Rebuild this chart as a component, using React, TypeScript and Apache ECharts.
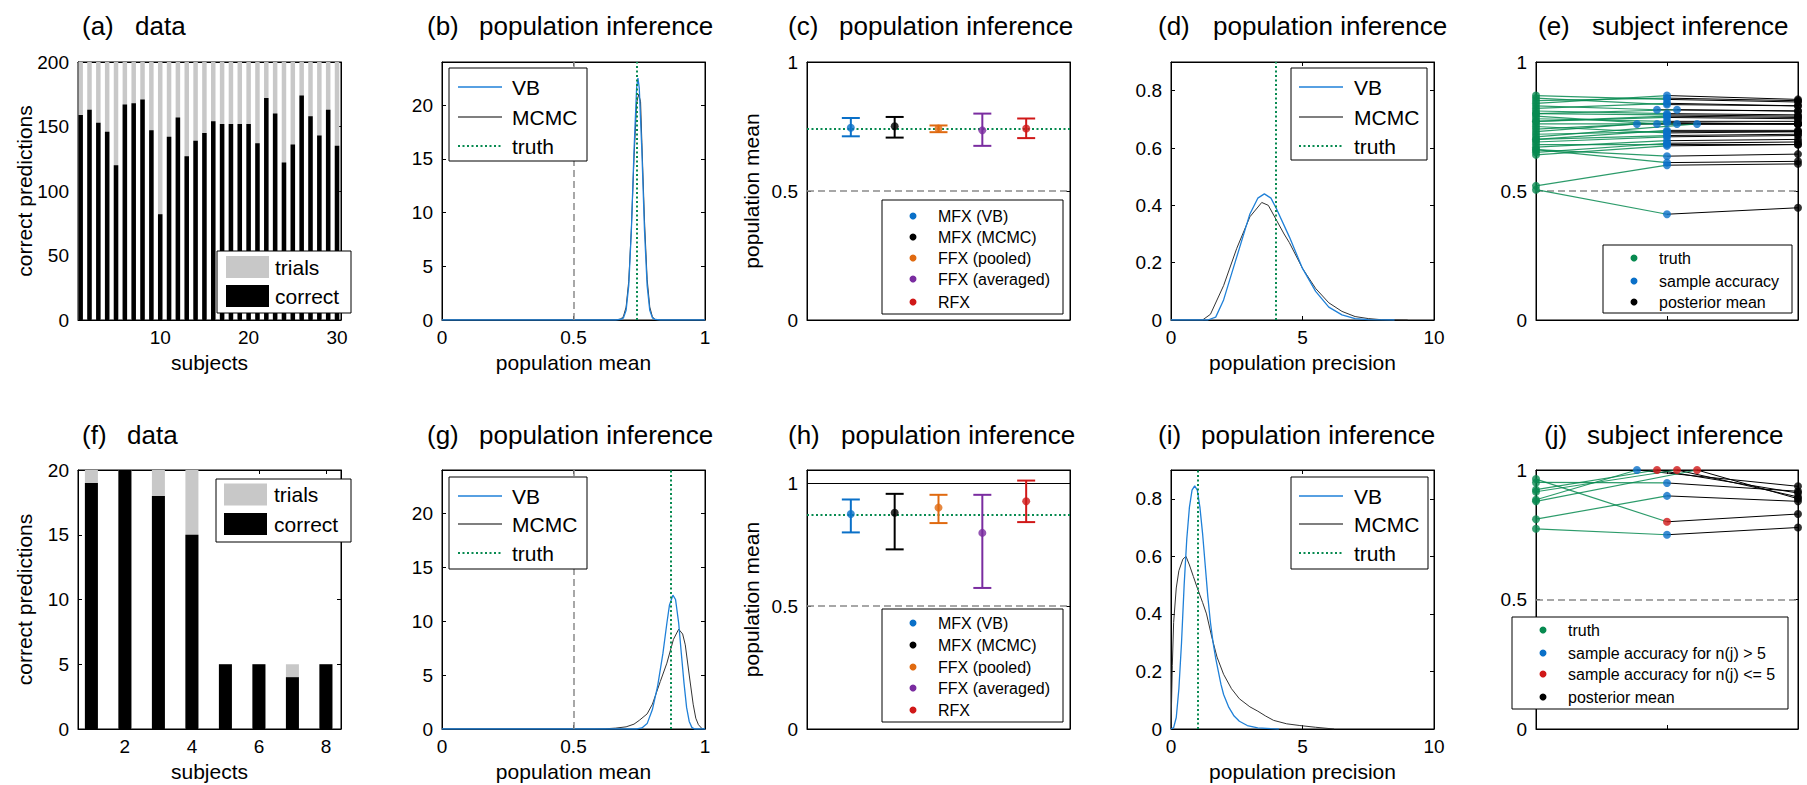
import React, { useEffect, useRef } from "react";
import * as echarts from "echarts";

const FONT = '"Liberation Sans", Arial, Helvetica, sans-serif';
const GREEN = "#078a50";
const BLUE = "#0a70c8";
const VBLINE = "#1f80d8";
const MCMCLINE = "#333333";
const ORANGE = "#e06a10";
const PURPLE = "#7a2ca0";
const RED = "#d01818";
const GRAY = "#8a8a8a";
const BARGRAY = "#c8c8c8";

// ---------- data: top row (30 subjects, 200 trials) ----------
const trialsA = [200, 200, 200, 200, 200, 200, 200, 200, 200, 200, 200, 200, 200, 200, 200, 200, 200, 200, 200, 200, 200, 200, 200, 200, 200, 200, 200, 200, 200, 200];
const correctA = [159, 163, 153, 146, 120, 167, 168, 171, 147, 82, 142, 157, 127, 139, 145, 154, 152, 152, 152, 152, 137, 172, 160, 122, 136, 174, 158, 143, 163, 135];
const truthA = [0.8, 0.83, 0.74, 0.72, 0.52, 0.86, 0.82, 0.87, 0.7, 0.505, 0.69, 0.77, 0.66, 0.67, 0.75, 0.78, 0.73, 0.79, 0.76, 0.71, 0.65, 0.85, 0.81, 0.66, 0.68, 0.84, 0.77, 0.7, 0.8, 0.64];
const postMeanA = [0.79, 0.81, 0.76, 0.73, 0.605, 0.83, 0.83, 0.845, 0.735, 0.435, 0.715, 0.78, 0.643, 0.7, 0.73, 0.77, 0.76, 0.76, 0.76, 0.76, 0.69, 0.85, 0.795, 0.615, 0.68, 0.855, 0.785, 0.72, 0.81, 0.68];

// ---------- data: bottom row (8 subjects) ----------
const trialsF = [20, 20, 20, 20, 5, 5, 5, 5];
const correctF = [19, 20, 18, 15, 5, 5, 4, 5];
const truthF = [0.952, 0.885, 0.81, 0.773, 0.924, 0.916, 0.965, 0.879];
const postMeanF = [0.918, 0.937, 0.879, 0.778, 0.911, 0.896, 0.83, 0.889];

// ---------- population mean estimates ----------
const methods = ["MFX (VB)", "MFX (MCMC)", "FFX (pooled)", "FFX (averaged)", "RFX"];
const methodColors = [BLUE, "#000000", ORANGE, PURPLE, RED];
const meanC = [0.745, 0.751, 0.742, 0.735, 0.742];
const lowC = [0.712, 0.707, 0.728, 0.675, 0.705];
const highC = [0.783, 0.787, 0.754, 0.8, 0.781];
const meanH = [0.875, 0.88, 0.901, 0.798, 0.927];
const lowH = [0.8, 0.731, 0.838, 0.574, 0.842];
const highH = [0.934, 0.957, 0.953, 0.953, 1.011];
const truthMeanTop = 0.74;
const truthMeanBottom = 0.866;
const truthPrecTop = 4.0;
const truthPrecBottom = 1.0;

// ---------- posterior densities ----------
const vbMeanTop = [[0, 0], [0.66, 0], [0.68, 0.05], [0.69, 0.2], [0.7, 0.9], [0.71, 3.2], [0.72, 8.3], [0.73, 15.7], [0.74, 21.6], [0.745, 22.5], [0.75, 21.6], [0.76, 15.7], [0.77, 8.3], [0.78, 3.2], [0.79, 0.9], [0.8, 0.2], [0.81, 0.05], [0.83, 0], [1, 0]];
const mcmcMeanTop = [[0, 0], [0.66, 0], [0.68, 0.1], [0.69, 0.35], [0.7, 1.2], [0.71, 3.6], [0.72, 8.5], [0.73, 15.0], [0.74, 20.2], [0.748, 21.0], [0.755, 20.3], [0.76, 16.5], [0.77, 9.2], [0.78, 3.8], [0.79, 1.2], [0.8, 0.3], [0.81, 0.05], [0.83, 0], [1, 0]];
const vbPrecTop = [[0, 0], [1.4, 0], [1.7, 0.01], [2.0, 0.07], [2.5, 0.22], [3.0, 0.37], [3.3, 0.425], [3.55, 0.44], [3.8, 0.425], [4.0, 0.39], [4.5, 0.29], [5.0, 0.18], [5.5, 0.1], [6.0, 0.045], [6.5, 0.018], [7.0, 0.005], [7.5, 0.001], [8.5, 0]];
const mcmcPrecTop = [[0, 0], [1.2, 0], [1.5, 0.02], [2.0, 0.12], [2.5, 0.25], [3.0, 0.36], [3.45, 0.41], [3.7, 0.4], [4.0, 0.35], [4.3, 0.3], [4.5, 0.27], [5.0, 0.18], [5.5, 0.11], [6.0, 0.06], [6.5, 0.03], [7.0, 0.012], [7.5, 0.005], [8.0, 0.001], [9.0, 0]];
const vbMeanBottom = [[0, 0], [0.74, 0], [0.76, 0.1], [0.78, 0.5], [0.8, 1.8], [0.82, 4.0], [0.84, 7.0], [0.855, 9.8], [0.865, 11.5], [0.878, 12.4], [0.888, 12.0], [0.9, 9.8], [0.91, 7.0], [0.92, 4.3], [0.93, 2.0], [0.94, 0.7], [0.95, 0.15], [0.96, 0], [1, 0]];
const mcmcMeanBottom = [[0, 0], [0.58, 0], [0.62, 0.02], [0.66, 0.08], [0.7, 0.2], [0.73, 0.45], [0.75, 0.8], [0.78, 1.4], [0.8, 2.3], [0.83, 4.4], [0.855, 6.1], [0.88, 8.3], [0.9, 9.25], [0.915, 8.8], [0.925, 7.8], [0.94, 5.0], [0.955, 2.3], [0.965, 1.0], [0.975, 0.4], [0.99, 0], [1, 0]];
const vbPrecBottom = [[0, 0], [0.1, 0.005], [0.2, 0.04], [0.3, 0.14], [0.4, 0.3], [0.5, 0.5], [0.6, 0.66], [0.7, 0.77], [0.8, 0.83], [0.9, 0.845], [1.0, 0.83], [1.1, 0.77], [1.2, 0.68], [1.3, 0.57], [1.4, 0.46], [1.5, 0.37], [1.6, 0.3], [1.7, 0.245], [1.8, 0.2], [1.9, 0.155], [2.0, 0.12], [2.2, 0.075], [2.4, 0.045], [2.6, 0.027], [2.9, 0.012], [3.3, 0.004], [3.8, 0.001], [4.1, 0]];
const mcmcPrecBottom = [[0, 0], [0.05, 0.22], [0.1, 0.37], [0.2, 0.49], [0.3, 0.55], [0.45, 0.59], [0.57, 0.6], [0.7, 0.57], [0.85, 0.53], [1.0, 0.49], [1.2, 0.44], [1.35, 0.4], [1.55, 0.32], [1.75, 0.25], [2.0, 0.19], [2.3, 0.14], [2.6, 0.105], [3.0, 0.077], [3.3, 0.062], [3.6, 0.045], [3.9, 0.03], [4.4, 0.018], [4.9, 0.012], [5.5, 0.006], [6.2, 0]];

// ---------- texts ----------
const panelLetters = ["(a)", "(b)", "(c)", "(d)", "(e)", "(f)", "(g)", "(h)", "(i)", "(j)"];
const panelTitles = ["data", "population inference", "population inference", "population inference", "subject inference", "data", "population inference", "population inference", "population inference", "subject inference"];
const ticksA = [10, 20, 30];
const ticksF = [2, 4, 6, 8];

// ---------- layout ----------
const COLS = [{ l: 78, w: 263 }, { l: 442, w: 263 }, { l: 807, w: 263 }, { l: 1171, w: 263 }, { l: 1536, w: 262 }];
const ROWS = [{ t: 62, h: 258 }, { t: 470, h: 259 }];
const letterX = [82, 427, 788, 1158, 1538, 82, 427, 788, 1158, 1544];
const titleX = [135, 479, 839, 1213, 1592, 127, 479, 841, 1201, 1587];
const titleY = [26, 435];
const X_NAME_GAP = 32;

function jitter(values: number[]): number[] {
  const groups = new Map<string, number[]>();
  values.forEach((v, i) => {
    const k = v.toFixed(4);
    if (!groups.has(k)) groups.set(k, []);
    groups.get(k)!.push(i);
  });
  const out = values.map(() => 0);
  groups.forEach((idx) => idx.forEach((i, r) => { out[i] = (r - (idx.length - 1) / 2) * 0.153; }));
  return out;
}

type AxSpec = { min: number; max: number; ticks?: number[]; labels?: boolean; name?: string; nameGap?: number };

function xAxes(gi: number, s: AxSpec) {
  return [
    {
      gridIndex: gi, type: "value", position: "bottom", min: s.min, max: s.max, splitLine: { show: false },
      axisLine: { show: true, onZero: false, lineStyle: { color: "#000", width: 1 } },
      axisTick: { show: !!s.ticks, inside: true, length: 4, customValues: s.ticks, lineStyle: { color: "#000" } },
      axisLabel: { show: !!s.labels, customValues: s.ticks, margin: 8, color: "#000", fontSize: 19, fontFamily: FONT },
      name: s.name, nameLocation: "middle", nameGap: s.nameGap ?? X_NAME_GAP, nameMoveOverlap: false,
      nameTextStyle: { color: "#000", fontSize: 21, fontFamily: FONT },
    },
    {
      gridIndex: gi, type: "value", position: "top", min: s.min, max: s.max, splitLine: { show: false },
      axisLine: { show: true, onZero: false, lineStyle: { color: "#000", width: 1 } },
      axisTick: { show: !!s.ticks, inside: true, length: 4, customValues: s.ticks, lineStyle: { color: "#000" } },
      axisLabel: { show: false },
    },
  ];
}

function yAxes(gi: number, s: AxSpec) {
  return [
    {
      gridIndex: gi, type: "value", position: "left", min: s.min, max: s.max, splitLine: { show: false },
      axisLine: { show: true, onZero: false, lineStyle: { color: "#000", width: 1 } },
      axisTick: { show: !!s.ticks, inside: true, length: 4, customValues: s.ticks, lineStyle: { color: "#000" } },
      axisLabel: { show: true, customValues: s.ticks, margin: 9, color: "#000", fontSize: 19, fontFamily: FONT },
      name: s.name, nameLocation: "middle", nameGap: s.nameGap ?? 43, nameMoveOverlap: false,
      nameTextStyle: { color: "#000", fontSize: 21, fontFamily: FONT },
    },
    {
      gridIndex: gi, type: "value", position: "right", min: s.min, max: s.max, splitLine: { show: false },
      axisLine: { show: true, onZero: false, lineStyle: { color: "#000", width: 1 } },
      axisTick: { show: !!s.ticks, inside: true, length: 4, customValues: s.ticks, lineStyle: { color: "#000" } },
      axisLabel: { show: false },
    },
  ];
}

const dottedGreen = { color: GREEN, width: 2, type: [2, 2.5] as any };
const dashedGray = { color: GRAY, width: 1.5, type: [7, 4] as any };

function ax(gi: number) {
  return { xAxisIndex: 2 * gi, yAxisIndex: 2 * gi };
}

function barSeries(gi: number, trials: number[], correct: number[], width: number) {
  const xs = correct.map((_, i) => i + 1);
  return [
    { type: "bar", name: "trials", ...ax(gi), barWidth: width, barGap: "-100%", itemStyle: { color: BARGRAY }, data: xs.map((x, i) => [x, trials[i]]), z: 2 },
    { type: "bar", name: "correct", ...ax(gi), barWidth: width, barGap: "-100%", itemStyle: { color: "#000" }, data: xs.map((x, i) => [x, correct[i]]), z: 3 },
  ];
}

function densitySeries(gi: number, vb: number[][], mcmc: number[][], truth: number, chance: boolean) {
  const ml: any[] = [];
  if (chance) ml.push({ xAxis: 0.5, lineStyle: dashedGray });
  ml.push({ xAxis: truth, lineStyle: dottedGreen });
  return [
    { type: "line", name: "MCMC", ...ax(gi), data: mcmc, showSymbol: false, symbol: "none", lineStyle: { color: MCMCLINE, width: 1 }, z: 3 },
    {
      type: "line", name: "VB", ...ax(gi), data: vb, showSymbol: false, symbol: "none", lineStyle: { color: VBLINE, width: 1.3 }, z: 4,
      markLine: { silent: true, symbol: ["none", "none"], label: { show: false }, data: ml, z: 5 },
    },
  ];
}

function estimateSeries(gi: number, mean: number[], low: number[], high: number[], truth: number, unitLine: boolean) {
  const ml: any[] = [{ yAxis: 0.5, lineStyle: dashedGray }, { yAxis: truth, lineStyle: dottedGreen }];
  if (unitLine) ml.push({ yAxis: 1, lineStyle: { color: "#000", width: 1, type: "solid" } });
  return [
    {
      type: "custom", name: "error bars", ...ax(gi), clip: false, silent: true, z: 4,
      data: mean.map((m, i) => [i + 1, m, low[i], high[i]]),
      renderItem: (params: any, api: any) => {
        const x = api.value(0);
        const pLo = api.coord([x, api.value(2)]);
        const pHi = api.coord([x, api.value(3)]);
        const hw = 9;
        const color = methodColors[params.dataIndex];
        const st = { stroke: color, lineWidth: 2 };
        return {
          type: "group",
          children: [
            { type: "line", shape: { x1: pLo[0], y1: pLo[1], x2: pHi[0], y2: pHi[1] }, style: st },
            { type: "line", shape: { x1: pLo[0] - hw, y1: pLo[1], x2: pLo[0] + hw, y2: pLo[1] }, style: st },
            { type: "line", shape: { x1: pHi[0] - hw, y1: pHi[1], x2: pHi[0] + hw, y2: pHi[1] }, style: st },
          ],
        };
      },
      markLine: { silent: true, symbol: ["none", "none"], label: { show: false }, data: ml, z: 3 },
    },
    {
      type: "scatter", name: "estimates", ...ax(gi), clip: false, symbolSize: 8, z: 5,
      data: mean.map((m, i) => ({ value: [i + 1, m], itemStyle: { color: methodColors[i] } })),
    },
  ];
}

function subjectSeries(gi: number, truth: number[], sample: number[], pm: number[], sampleColors: string[]) {
  const jit = jitter(sample);
  return [
    {
      type: "custom", name: "links", ...ax(gi), clip: false, silent: true, z: 2,
      data: truth.map((t, i) => [t, sample[i], pm[i], jit[i]]),
      renderItem: (_p: any, api: any) => {
        const a = api.coord([1, api.value(0)]);
        const b = api.coord([2 + api.value(3), api.value(1)]);
        const c = api.coord([3, api.value(2)]);
        return {
          type: "group",
          children: [
            { type: "line", shape: { x1: a[0], y1: a[1], x2: b[0], y2: b[1] }, style: { stroke: GREEN, lineWidth: 1.2, opacity: 0.85 } },
            { type: "line", shape: { x1: b[0], y1: b[1], x2: c[0], y2: c[1] }, style: { stroke: "#000", lineWidth: 1 } },
          ],
        };
      },
      markLine: { silent: true, symbol: ["none", "none"], label: { show: false }, data: [{ yAxis: 0.5, lineStyle: dashedGray }], z: 1 },
    },
    { type: "scatter", name: "truth", ...ax(gi), clip: false, symbolSize: 8, z: 4, itemStyle: { color: GREEN }, data: truth.map((t) => [1, t]) },
    { type: "scatter", name: "sample accuracy", ...ax(gi), clip: false, symbolSize: 8, z: 4, data: sample.map((s, i) => ({ value: [2 + jit[i], s], itemStyle: { color: sampleColors[i] } })) },
    { type: "scatter", name: "posterior mean", ...ax(gi), clip: false, symbolSize: 8, z: 4, itemStyle: { color: "#000" }, data: pm.map((p) => [3, p]) },
  ];
}

type LegItem = { label: string; kind: "line" | "dot" | "patch"; color: string; dash?: number[]; width?: number };

function legendBox(box: number[], rows: number[], markX: number[], textX: number, fontSize: number, items: LegItem[], patchH = 22) {
  const els: any[] = [
    { type: "rect", z: 100, shape: { x: box[0], y: box[1], width: box[2] - box[0], height: box[3] - box[1] }, style: { fill: "#fff", stroke: "#000", lineWidth: 1 } },
  ];
  items.forEach((it, k) => {
    const y = rows[k];
    if (it.kind === "line") {
      els.push({ type: "line", z: 101, shape: { x1: markX[0], y1: y, x2: markX[1], y2: y }, style: { stroke: it.color, lineWidth: it.width || 1.5, lineDash: it.dash || null } });
    } else if (it.kind === "dot") {
      els.push({ type: "circle", z: 101, shape: { cx: markX[0], cy: y, r: 3.5 }, style: { fill: it.color } });
    } else {
      els.push({ type: "rect", z: 101, shape: { x: markX[0], y: y - patchH / 2, width: markX[1] - markX[0], height: patchH }, style: { fill: it.color } });
    }
    els.push({ type: "text", z: 101, x: textX, y, style: { text: it.label, fontSize, fontFamily: FONT, fill: "#000", align: "left", verticalAlign: "middle" } });
  });
  return els;
}

const lineItems: LegItem[] = [
  { label: "VB", kind: "line", color: VBLINE, width: 1.5 },
  { label: "MCMC", kind: "line", color: "#555", width: 1.5 },
  { label: "truth", kind: "line", color: GREEN, width: 2, dash: [2, 2.5] },
];
const patchItems: LegItem[] = [
  { label: "trials", kind: "patch", color: BARGRAY },
  { label: "correct", kind: "patch", color: "#000" },
];
const methodItems: LegItem[] = methods.map((m, i) => ({ label: m, kind: "dot", color: methodColors[i] }));
const subjItemsTop: LegItem[] = [
  { label: "truth", kind: "dot", color: GREEN },
  { label: "sample accuracy", kind: "dot", color: BLUE },
  { label: "posterior mean", kind: "dot", color: "#000" },
];
const subjItemsBottom: LegItem[] = [
  { label: "truth", kind: "dot", color: GREEN },
  { label: "sample accuracy for n(j) > 5", kind: "dot", color: BLUE },
  { label: "sample accuracy for n(j) <= 5", kind: "dot", color: RED },
  { label: "posterior mean", kind: "dot", color: "#000" },
];

function buildOption() {
  const grids: any[] = [];
  for (const r of ROWS) for (const c of COLS) grids.push({ left: c.l, top: r.t, width: c.w, height: r.h, show: true, borderColor: "#000", borderWidth: 1 });

  const specs: [AxSpec, AxSpec][] = [
    [{ min: 0.7, max: 30.45, ticks: ticksA, labels: true, name: "subjects" }, { min: 0, max: 200, ticks: [0, 50, 100, 150, 200], name: "correct predictions", nameGap: 43 }],
    [{ min: 0, max: 1, ticks: [0, 0.5, 1], labels: true, name: "population mean" }, { min: 0, max: 24, ticks: [0, 5, 10, 15, 20] }],
    [{ min: 0, max: 6 }, { min: 0, max: 1, ticks: [0, 0.5, 1], name: "population mean", nameGap: 45 }],
    [{ min: 0, max: 10, ticks: [0, 5, 10], labels: true, name: "population precision" }, { min: 0, max: 0.9, ticks: [0, 0.2, 0.4, 0.6, 0.8] }],
    [{ min: 1, max: 3, ticks: [2] }, { min: 0, max: 1, ticks: [0, 0.5, 1] }],
    [{ min: 0.6, max: 8.45, ticks: ticksF, labels: true, name: "subjects" }, { min: 0, max: 20, ticks: [0, 5, 10, 15, 20], name: "correct predictions", nameGap: 43 }],
    [{ min: 0, max: 1, ticks: [0, 0.5, 1], labels: true, name: "population mean" }, { min: 0, max: 24, ticks: [0, 5, 10, 15, 20] }],
    [{ min: 0, max: 6 }, { min: 0, max: 1.054, ticks: [0, 0.5, 1], name: "population mean", nameGap: 45 }],
    [{ min: 0, max: 10, ticks: [0, 5, 10], labels: true, name: "population precision" }, { min: 0, max: 0.9, ticks: [0, 0.2, 0.4, 0.6, 0.8] }],
    [{ min: 1, max: 3, ticks: [2] }, { min: 0, max: 1, ticks: [0, 0.5, 1] }],
  ];
  const xAxis: any[] = [];
  const yAxis: any[] = [];
  specs.forEach(([xs, ys], gi) => {
    xAxis.push(...xAxes(gi, xs));
    yAxis.push(...yAxes(gi, ys));
  });

  const sampleA = correctA.map((c, i) => c / trialsA[i]);
  const sampleF = correctF.map((c, i) => c / trialsF[i]);

  const series: any[] = [
    ...barSeries(0, trialsA, correctA, 4.5),
    ...densitySeries(1, vbMeanTop, mcmcMeanTop, truthMeanTop, true),
    ...estimateSeries(2, meanC, lowC, highC, truthMeanTop, false),
    ...densitySeries(3, vbPrecTop, mcmcPrecTop, truthPrecTop, false),
    ...subjectSeries(4, truthA, sampleA, postMeanA, sampleA.map(() => BLUE)),
    ...barSeries(5, trialsF, correctF, 13),
    ...densitySeries(6, vbMeanBottom, mcmcMeanBottom, truthMeanBottom, true),
    ...estimateSeries(7, meanH, lowH, highH, truthMeanBottom, true),
    ...densitySeries(8, vbPrecBottom, mcmcPrecBottom, truthPrecBottom, false),
    ...subjectSeries(9, truthF, sampleF, postMeanF, trialsF.map((n) => (n > 5 ? BLUE : RED))),
  ];

  const graphics: any[] = [];
  panelLetters.forEach((l, i) => {
    const y = titleY[i < 5 ? 0 : 1];
    graphics.push({ type: "text", x: letterX[i], y, z: 50, style: { text: l, fontSize: 26, fontFamily: FONT, fill: "#000", align: "left", verticalAlign: "middle" } });
    graphics.push({ type: "text", x: titleX[i], y, z: 50, style: { text: panelTitles[i], fontSize: 26, fontFamily: FONT, fill: "#000", align: "left", verticalAlign: "middle" } });
  });
  graphics.push(...legendBox([217, 251, 351, 313], [267, 296], [226, 269], 275, 21, patchItems, 22));
  graphics.push(...legendBox([216, 479, 351, 542], [494.5, 524], [224, 267], 274, 21, patchItems, 22));
  graphics.push(...legendBox([449, 68, 587, 161], [87, 117, 146], [458, 502], 512, 21, lineItems));
  graphics.push(...legendBox([449, 477, 587, 569], [496, 524, 553], [458, 502], 512, 21, lineItems));
  graphics.push(...legendBox([1291, 68, 1427, 160], [87, 117, 146], [1299, 1343], 1354, 21, lineItems));
  graphics.push(...legendBox([1291, 477, 1428, 569], [496, 524, 553], [1299, 1343], 1354, 21, lineItems));
  graphics.push(...legendBox([882, 200, 1063, 314], [216, 237, 258, 279, 302], [913, 913], 938, 16, methodItems));
  graphics.push(...legendBox([882, 609, 1063, 722], [623, 645, 667, 688, 710], [913, 913], 938, 16, methodItems));
  graphics.push(...legendBox([1603, 245, 1792, 313], [258, 281, 302], [1634, 1634], 1659, 16, subjItemsTop));
  graphics.push(...legendBox([1512, 617, 1788, 709], [630, 653, 674, 697], [1543, 1543], 1568, 16, subjItemsBottom));

  return {
    animation: false,
    backgroundColor: "#fff",
    textStyle: { fontFamily: FONT },
    grid: grids,
    xAxis,
    yAxis,
    series,
    graphic: { elements: graphics },
  };
}

export default function App() {
  const ref = useRef<HTMLDivElement>(null);
  useEffect(() => {
    const chart = echarts.init(ref.current!, null, { renderer: "svg", width: 1807, height: 785 });
    chart.setOption(buildOption() as any);
    return () => chart.dispose();
  }, []);
  return <div ref={ref} style={{ position: "fixed", left: 0, top: 0, width: 1807, height: 785, background: "#fff" }} />;
}
